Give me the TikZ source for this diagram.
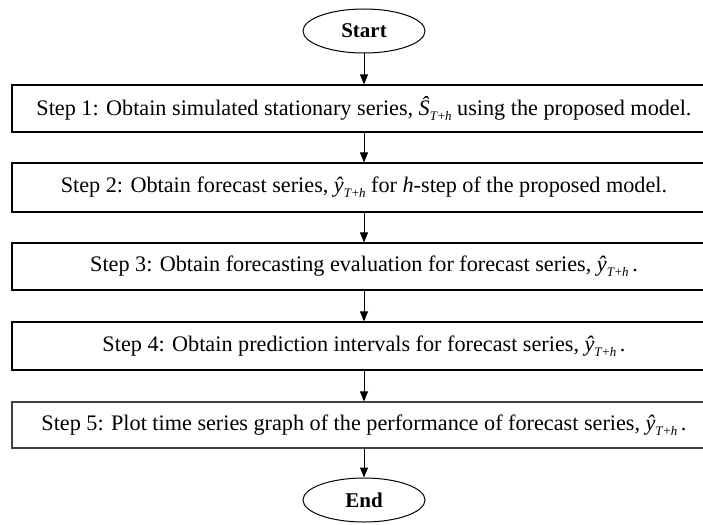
\documentclass[tikz,border=0pt]{standalone}
\usepackage{fontspec}
\setmainfont{Liberation Serif}
\usetikzlibrary{shapes.geometric,arrows.meta}
\newcommand{\mysub}[1]{\raisebox{-0.45ex}{\fontsize{13}{13}\selectfont #1}}
\newcommand{\yhat}{\textit{ŷ}\mysub{\textit{T}+\textit{h}}}
\newcommand{\Shat}{\textit{Ŝ}\mysub{\textit{T}+\textit{h}}}
\begin{document}
\begin{tikzpicture}[x=1pt,y=-1pt,
  stepbox/.style={draw, line width=1.2pt, minimum width=704pt, inner sep=0pt,
    font=\fontsize{22.2}{26}\selectfont},
  term/.style={draw, ellipse, line width=1pt, minimum width=122pt, minimum height=44pt,
    inner sep=0pt, font=\fontsize{21}{25}\selectfont\bfseries},
  arr/.style={-{Triangle[length=10pt,width=8pt]}, line width=1pt}]
\useasboundingbox (0,0) rectangle (703,524);
\node[term] (start) at (364,31) {Start};
\node[stepbox, minimum height=47pt] (b1) at (364,108.5)
  {Step 1: Obtain simulated stationary series, \Shat\ using the proposed model.};
\node[stepbox, minimum height=49pt] (b2) at (364,187.5)
  {Step 2: Obtain forecast series, \yhat\ for \textit{h}-step of the proposed model.};
\node[stepbox, minimum height=47pt] (b3) at (364,266.5)
  {Step 3: Obtain forecasting evaluation for forecast series, \yhat\,.};
\node[stepbox, minimum height=48pt] (b4) at (364,346)
  {Step 4: Obtain prediction intervals for forecast series, \yhat\,.};
\node[stepbox, minimum height=46pt, draw=black!75] (b5) at (364,425)
  {Step 5: Plot time series graph of the performance of forecast series, \yhat\,.};
\node[term] (end) at (364,500) {End};
\draw[arr] (start) -- (b1);
\draw[arr] (b1) -- (b2);
\draw[arr] (b2) -- (b3);
\draw[arr] (b3) -- (b4);
\draw[arr] (b4) -- (b5);
\draw[arr] (b5) -- (end);
\end{tikzpicture}
\end{document}
